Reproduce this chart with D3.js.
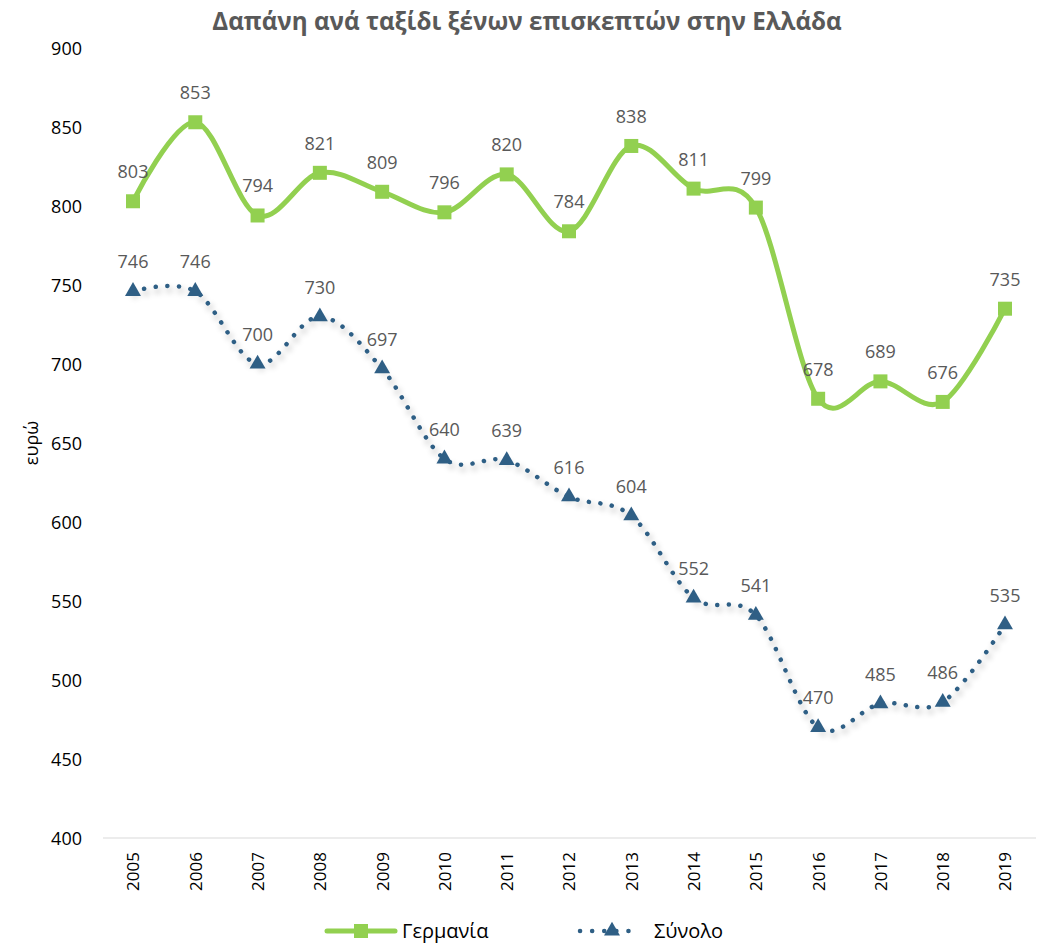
<!DOCTYPE html>
<html><head><meta charset="utf-8">
<script src="https://cdn.jsdelivr.net/npm/d3@7"></script>
<style>body{margin:0;background:#fff}</style>
</head><body><svg id="c" width="1045" height="944"></svg>
<script>
const years = ["2005","2006","2007","2008","2009","2010","2011","2012","2013","2014","2015","2016","2017","2018","2019"];
const germany = [803,853,794,821,809,796,820,784,838,811,799,678,689,676,735];
const total = [746,746,700,730,697,640,639,616,604,552,541,470,485,486,535];
const yTicks = [400,450,500,550,600,650,700,750,800,850,900];
const seriesNames = ["Γερμανία","Σύνολο"];
const titleText = "Δαπάνη ανά ταξίδι ξένων επισκεπτών στην Ελλάδα";
const yLabel = "ευρώ";

const svg = d3.select("#c");
const font = '"Open Sans","Noto Sans",sans-serif';
const x = d3.scalePoint().domain(years).range([133,1005]);
const y = d3.scaleLinear().domain([400,900]).range([838,48]);
const green = "#92D050", blue = "#2F5F85";

const defs = svg.append("defs");
const f = defs.append("filter").attr("id","sh").attr("x","-10%").attr("y","-10%").attr("width","120%").attr("height","130%");
f.append("feGaussianBlur").attr("in","SourceAlpha").attr("stdDeviation",3).attr("result","b");
f.append("feOffset").attr("in","b").attr("dx",2).attr("dy",4).attr("result","o");
f.append("feComponentTransfer").attr("in","o").attr("result","o2").append("feFuncA").attr("type","linear").attr("slope",0.35);
const m = f.append("feMerge"); m.append("feMergeNode").attr("in","o2"); m.append("feMergeNode").attr("in","SourceGraphic");

svg.append("text").attr("x",527).attr("y",30).attr("text-anchor","middle")
  .attr("font-family",font).attr("font-weight","bold").attr("font-size",24.2).attr("fill","#595959").text(titleText);

// y axis labels
svg.append("g").selectAll("text").data(yTicks).join("text")
  .attr("x",82).attr("y",d=>y(d)+6.5).attr("text-anchor","end")
  .attr("font-family",font).attr("font-size",18).attr("fill","#000").text(d=>d);
svg.append("text").attr("transform","translate(38,443) rotate(-90)").attr("text-anchor","middle")
  .attr("font-family",font).attr("font-size",18).attr("fill","#000").text(yLabel);

// x axis
const xa = svg.append("g").attr("transform","translate(0,838)")
  .call(d3.axisBottom(x).tickSize(0).tickPadding(0));
xa.select(".domain").remove();
svg.append("line").attr("x1",103).attr("x2",1036).attr("y1",838).attr("y2",838).attr("stroke","#D9D9D9").attr("stroke-width",1.2);
xa.selectAll("text").attr("transform","rotate(-90)").attr("text-anchor","end")
  .attr("x",-14).attr("y",0).attr("dy","0.35em").attr("font-family",font).attr("font-size",17).attr("fill","#000");

const line = d3.line().x((d,i)=>x(years[i])).y(d=>y(d)).curve(d3.curveCardinal.tension(0));

// total series
svg.append("path").datum(total).attr("d",line).attr("fill","none").attr("stroke",blue)
  .attr("stroke-width",4.5).attr("stroke-linecap","round").attr("stroke-dasharray","0.1 11.5").attr("filter","url(#sh)");
const tri = d3.symbol().type(d3.symbolTriangle).size(110);
svg.append("g").selectAll("path").data(total).join("path")
  .attr("transform",(d,i)=>`translate(${x(years[i])},${y(d)})`).attr("d",tri).attr("fill",blue);

// germany
svg.append("path").datum(germany).attr("d",line).attr("fill","none").attr("stroke",green).attr("stroke-width",5);
svg.append("g").selectAll("rect").data(germany).join("rect")
  .attr("x",(d,i)=>x(years[i])-7).attr("y",d=>y(d)-7).attr("width",14).attr("height",14).attr("fill",green);

// labels
function labels(data){
  svg.append("g").selectAll("text").data(data).join("text")
    .attr("x",(d,i)=>x(years[i])).attr("y",d=>y(d)-23).attr("text-anchor","middle")
    .attr("font-family",font).attr("font-size",18).attr("fill","#595959").text(d=>d);
}
labels(germany); labels(total);

// legend
const lg = svg.append("g");
lg.append("line").attr("x1",327).attr("x2",395).attr("y1",931).attr("y2",931).attr("stroke",green).attr("stroke-width",5).attr("stroke-linecap","round");
lg.append("rect").attr("x",354).attr("y",924).attr("width",14).attr("height",14).attr("fill",green);
lg.append("text").attr("x",402).attr("y",938).attr("font-family",font).attr("font-size",20).attr("fill","#000").text(seriesNames[0]);
lg.append("line").attr("x1",580).attr("x2",640).attr("y1",931).attr("y2",931).attr("stroke",blue).attr("stroke-width",4.5).attr("stroke-linecap","round").attr("stroke-dasharray","0.1 12");
lg.append("path").attr("transform","translate(612,931)").attr("d",tri).attr("fill",blue);
lg.append("text").attr("x",654).attr("y",938).attr("font-family",font).attr("font-size",20).attr("fill","#000").text(seriesNames[1]);
</script></body></html>
